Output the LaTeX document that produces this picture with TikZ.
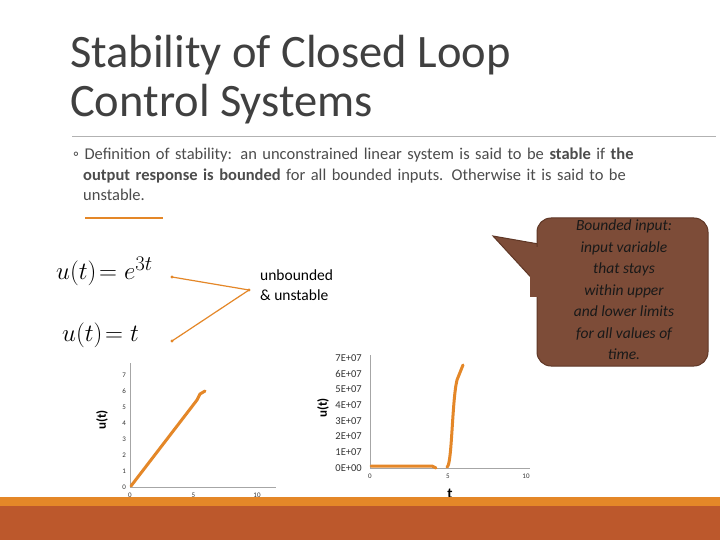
\documentclass[tikz,border=0pt]{standalone}
\usepackage{fontspec}
\setmainfont{Carlito}
\newfontfamily\lms{Latin Modern Roman}
\definecolor{orng}{RGB}{228,135,40}
\definecolor{rust}{RGB}{188,88,44}
\definecolor{cbrown}{RGB}{125,76,56}
\definecolor{cedge}{RGB}{95,55,38}
\begin{document}
\begin{tikzpicture}[x=1pt,y=-1pt,
  lbl/.style={font=\fontsize{7}{8}\selectfont, text=black!80, inner sep=1pt},
  axl/.style={draw=gray!70, line width=1pt},
  crv/.style={draw=orng, line width=3pt, line cap=round},
  ptr/.style={draw=orng, line width=1.2pt}]
\useasboundingbox (0,0) rectangle (720,540);
\fill[white] (0,0) rectangle (720,540);
\node[anchor=north west, inner sep=0, align=left, text=black!75, font=\fontsize{46.5}{49}\selectfont] (title) at (70,35) {Stability of Closed Loop\\Control Systems};
\draw[gray!60, line width=0.8pt] (72,136) -- (716,136);
\node[anchor=north west, inner sep=0, align=left, text=black!70, font=\fontsize{16.5}{20.5}\selectfont, text width=560pt] (def) at (83,148) {\hspace*{-10pt}◦\ Definition of stability: an unconstrained linear system is said to be \textbf{stable} if \textbf{the output response is bounded} for all bounded inputs. Otherwise it is said to be unstable.};
\draw[orng, line width=2pt] (85,218) -- (163,218);
\node[anchor=west, inner sep=0, font=\lms\fontsize{30}{32}\selectfont] (e1) at (56,271) {$u\bigl(t\bigr)\!=e^{3t}$};
\node[anchor=west, inner sep=0, font=\lms\fontsize{30}{32}\selectfont] (e2) at (62,335) {$u\bigl(t\bigr)\!=t$};
\coordinate (hub) at (249,290);
\coordinate (p1) at (172,277);
\coordinate (p2) at (172,341);
\draw[ptr] (hub) -- (p1); \draw[ptr] (hub) -- (p2);
\fill[orng] (p1) circle (1.6) (p2) circle (1.6) (hub) circle (1.6);
\node[anchor=north west, inner sep=0, align=left, font=\fontsize{15.5}{20}\selectfont] (ub) at (260,270) {unbounded\\\& unstable};
% callout
\coordinate (tip) at (493,236);
\filldraw[fill=cbrown, draw=cedge, line width=1pt] (tip) -- (550,246) -- (550,298) -- cycle;
\filldraw[fill=cbrown, draw=cedge, line width=1pt, rounded corners=14pt] (537,218) rectangle (708,366);
\fill[cbrown] (530,247) rectangle (545,297);
\node[align=center, font=\itshape\fontsize{15.5}{21.5}\selectfont, text=black!90, inner sep=0] (call) at (624,290) {Bounded input:\\input variable\\that stays\\within upper\\and lower limits\\for all values of\\time.};
% left plot
\draw[axl] (130,363) -- (130,487) -- (276,487);
\foreach \v in {0,...,7} { \node[lbl, anchor=east] at (127,487-16*\v) {\v}; }
\foreach \v/\lab in {0/0,5/5,10/10} { \node[lbl, anchor=north] at (130+12.7*\v,492) {\lab}; }
\node[rotate=90, font=\bfseries\fontsize{13}{14}\selectfont] (ylab1) at (102,420) {u(t)};
\node[font=\bfseries\fontsize{15}{16}\selectfont] (xlab1) at (191,514) {t};
\draw[crv] (131,486) -- (197,400) -- (200,394) -- (205,391);
% right plot
\draw[axl] (370,355) -- (370,468) -- (530,468);
\foreach \v in {0,...,7} { \node[lbl, anchor=east, font=\fontsize{10.5}{12}\selectfont] at (363,468-15.7*\v) {\v E+0\ifnum\v=0 0\else 7\fi}; }
\foreach \v/\lab in {0/0,5/5,10/10} { \node[lbl, anchor=north] at (370+15.6*\v,473) {\lab}; }
\node[rotate=90, font=\bfseries\fontsize{13}{14}\selectfont] (ylab2) at (323,408) {u(t)};
\node[font=\bfseries\fontsize{15}{16}\selectfont] (xlab2) at (450,494) {t};
\draw[crv] (371,466) -- (432,466) -- (436,468);
\draw[crv] (447,467) .. controls (452,466) and (452,400) .. (457,380) -- (463,365);
% bottom band
\fill[orng] (0,497) rectangle (720,506);
\fill[rust] (0,506) rectangle (720,540);
\end{tikzpicture}
\end{document}
